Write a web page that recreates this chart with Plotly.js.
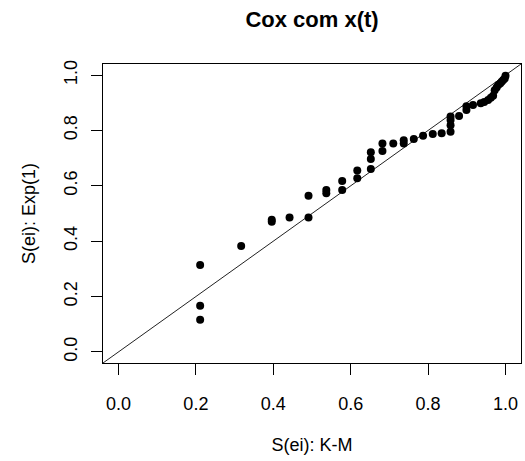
<!DOCTYPE html>
<html>
<head>
<meta charset="utf-8">
<script src="https://cdn.plot.ly/plotly-3.0.1.min.js"></script>
<style>html,body{margin:0;padding:0;background:#fff}#chart{width:525px;height:461px}</style>
</head>
<body>
<div id="chart"></div>
<script>
// S(ei) Kaplan-Meier estimates (x) vs S(ei) Exp(1) (y)
var skm = [0.211,0.211,0.211,0.317,0.396,0.396,0.442,0.491,0.491,0.537,
           0.537,0.578,0.578,0.617,0.617,0.652,0.652,0.652,0.682,0.682,
           0.710,0.737,0.737,0.763,0.787,0.812,0.835,0.858,0.858,0.858,
           0.858,0.880,0.899,0.899,0.916,0.936,0.945,0.955,0.962,0.968,
           0.972,0.977,0.981,0.986,0.990,0.994,0.998,1.000];
var sexp = [0.314,0.167,0.116,0.383,0.477,0.470,0.486,0.564,0.486,0.585,
            0.573,0.617,0.585,0.655,0.627,0.721,0.697,0.661,0.753,0.726,
            0.753,0.765,0.753,0.769,0.781,0.787,0.790,0.795,0.819,0.838,
            0.850,0.852,0.874,0.887,0.892,0.898,0.903,0.910,0.918,0.925,
            0.945,0.955,0.964,0.970,0.976,0.982,0.988,0.998];
var tickVals = [0, 0.2, 0.4, 0.6, 0.8, 1.0];
var tickText = ["0.0", "0.2", "0.4", "0.6", "0.8", "1.0"];
var abline = {a: 0, b: 1};
var titleText = "Cox com x(t)";
var xTitle = "S(ei): K-M";
var yTitle = "S(ei): Exp(1)";

var xr = [-0.04, 1.04], yr = [-0.04, 1.04];
var fnt = {family: "Liberation Sans, Arial, sans-serif", size: 18, color: "#000"};

var data = [{
  x: skm, y: sexp, type: "scatter", mode: "markers",
  marker: {color: "#000", size: 8},
  hoverinfo: "x+y"
}];

var axisCommon = {
  tickvals: tickVals, ticktext: tickText, ticks: "outside", ticklen: 11,
  tickcolor: "#000", tickwidth: 1, showgrid: false, zeroline: false,
  showline: true, mirror: true, linecolor: "#000", linewidth: 1,
  tickfont: fnt, autorange: false
};

var layout = {
  width: 525, height: 461,
  margin: {l: 103, r: 4, t: 64, b: 98},
  paper_bgcolor: "#fff", plot_bgcolor: "#fff",
  showlegend: false,
  font: fnt,
  title: {text: "<b>" + titleText + "</b>", font: {family: "Liberation Sans, Arial, sans-serif", size: 22, color: "#000"},
          x: 0.5, xref: "paper", y: 0.9588, yanchor: "middle"},
  xaxis: Object.assign({}, axisCommon, {range: xr, ticklabelstandoff: 13, title: {text: xTitle, font: fnt, standoff: 25}}),
  yaxis: Object.assign({}, axisCommon, {range: yr, tickangle: -90, ticklabelstandoff: 7, title: {text: yTitle, font: fnt, standoff: 20}}),
  shapes: [{
    type: "line", xref: "x", yref: "y",
    x0: xr[0] - 1, y0: abline.a + abline.b * (xr[0] - 1),
    x1: xr[1] + 1, y1: abline.a + abline.b * (xr[1] + 1),
    line: {color: "#222", width: 1}, layer: "below"
  }]
};

Plotly.newPlot("chart", data, layout, {staticPlot: true});
</script>
</body>
</html>
